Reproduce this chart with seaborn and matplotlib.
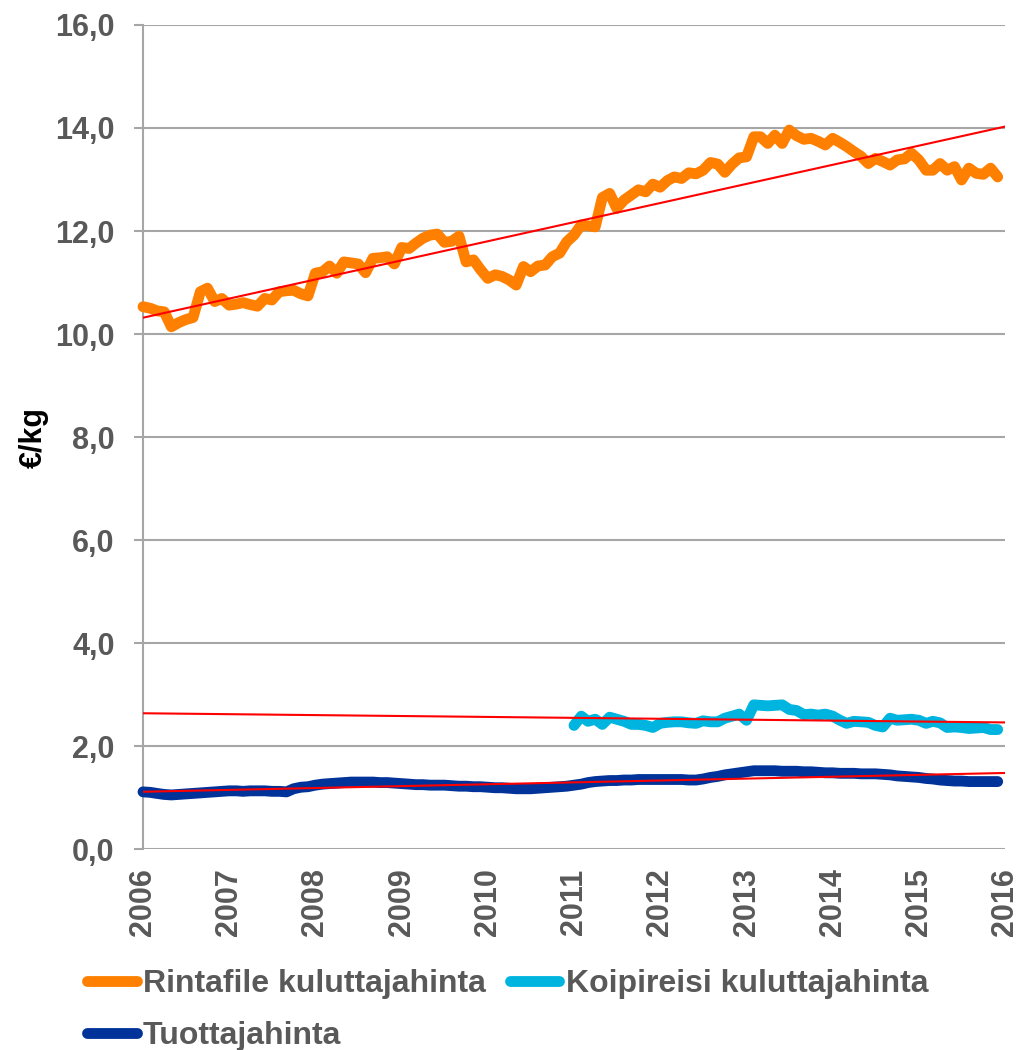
import matplotlib
matplotlib.use("Agg")
import matplotlib.pyplot as plt
import matplotlib.dates as mdates
from matplotlib.ticker import FuncFormatter
from matplotlib.font_manager import FontProperties
import seaborn as sns
import numpy as np
import pandas as pd

# kuukausittaiset hinnat, €/kg, tammikuu 2006 - joulukuu 2015
rintafile = [
    10.53, 10.50, 10.45, 10.43, 10.14, 10.22, 10.28, 10.32, 10.82, 10.89, 10.63, 10.69,
    10.56, 10.58, 10.61, 10.57, 10.54, 10.69, 10.66, 10.82, 10.84, 10.85, 10.78, 10.74,
    11.18, 11.21, 11.32, 11.18, 11.40, 11.38, 11.36, 11.19, 11.47, 11.48, 11.50, 11.36,
    11.68, 11.66, 11.76, 11.86, 11.92, 11.94, 11.78, 11.80, 11.90, 11.40, 11.44, 11.25,
    11.08, 11.15, 11.12, 11.05, 10.95, 11.31, 11.21, 11.32, 11.34, 11.50, 11.57, 11.79,
    11.92, 12.12, 12.10, 12.08, 12.65, 12.73, 12.44, 12.60, 12.70, 12.80, 12.76, 12.91,
    12.85, 12.98, 13.05, 13.02, 13.13, 13.11, 13.18, 13.33, 13.30, 13.14, 13.30, 13.42,
    13.44, 13.83, 13.83, 13.70, 13.86, 13.70, 13.96, 13.85, 13.78, 13.80, 13.74, 13.67,
    13.80, 13.72, 13.64, 13.54, 13.45, 13.31, 13.41, 13.35, 13.28, 13.38, 13.40, 13.51,
    13.38, 13.18, 13.18, 13.31, 13.18, 13.25, 12.99, 13.22, 13.12, 13.10, 13.22, 13.05,
]

# koipireisi alkaa tammikuusta 2011
koipireisi = [
    2.40, 2.58, 2.48, 2.52, 2.42, 2.56, 2.52, 2.48, 2.42, 2.42, 2.40, 2.36,
    2.44, 2.46, 2.47, 2.47, 2.45, 2.44, 2.49, 2.47, 2.47, 2.54, 2.58, 2.62,
    2.50, 2.80, 2.79, 2.78, 2.79, 2.80, 2.71, 2.69, 2.61, 2.62, 2.60, 2.62,
    2.58, 2.50, 2.44, 2.48, 2.47, 2.46, 2.40, 2.37, 2.54, 2.50, 2.51, 2.52,
    2.50, 2.44, 2.48, 2.45, 2.36, 2.37, 2.36, 2.34, 2.35, 2.36, 2.32, 2.32,
]

tuottaja = [
    1.11, 1.10, 1.08, 1.06, 1.05, 1.06, 1.07, 1.08, 1.09, 1.10, 1.11, 1.12,
    1.13, 1.13, 1.12, 1.13, 1.13, 1.13, 1.12, 1.12, 1.11, 1.17, 1.20, 1.21,
    1.24, 1.26, 1.27, 1.28, 1.29, 1.30, 1.30, 1.30, 1.30, 1.29, 1.29, 1.28,
    1.27, 1.26, 1.25, 1.25, 1.24, 1.24, 1.24, 1.23, 1.22, 1.22, 1.21, 1.21,
    1.20, 1.19, 1.19, 1.18, 1.17, 1.17, 1.17, 1.18, 1.19, 1.20, 1.21, 1.22,
    1.24, 1.26, 1.29, 1.31, 1.32, 1.33, 1.33, 1.34, 1.34, 1.35, 1.35, 1.35,
    1.35, 1.35, 1.35, 1.35, 1.34, 1.34, 1.36, 1.39, 1.41, 1.44, 1.46, 1.48,
    1.50, 1.52, 1.52, 1.52, 1.52, 1.51, 1.51, 1.51, 1.50, 1.50, 1.49, 1.48,
    1.48, 1.47, 1.47, 1.47, 1.46, 1.46, 1.46, 1.45, 1.44, 1.42, 1.41, 1.40,
    1.39, 1.37, 1.36, 1.34, 1.33, 1.32, 1.32, 1.31, 1.31, 1.31, 1.31, 1.31,
]

sarjat = ["Rintafile kuluttajahinta", "Koipireisi kuluttajahinta", "Tuottajahinta"]
varit = ["#FF8000", "#00B4E0", "#003399"]

kuukaudet = pd.date_range("2006-01-01", periods=len(rintafile), freq="MS")
alku = pd.Timestamp("2006-01-01")
loppu = pd.Timestamp("2016-01-01")

sns.set_style("white")
plt.rcParams["font.family"] = ["Liberation Sans", "DejaVu Sans"]
harmaa = "#595959"
viiva = "#A6A6A6"

fig = plt.figure(figsize=(10.17, 10.5), dpi=100)
ax = fig.add_axes([0.1406, 0.1914, 0.8476, 0.7848])

data = [
    (kuukaudet, rintafile),
    (kuukaudet[-len(koipireisi):], koipireisi),
    (kuukaudet, tuottaja),
]

for (x, y), nimi, vari in zip(data, sarjat, varit):
    sns.lineplot(x=x, y=y, color=vari, linewidth=7.8, label=nimi, ax=ax,
                 estimator=None, solid_capstyle="round", clip_on=False, zorder=3)

# lineaariset trendit (koipireisin trendi jatkuu koko aikavälille)
trendi_x = mdates.date2num([alku, loppu])
for x, y in data:
    k, b = np.polyfit(mdates.date2num(x), y, 1)
    sns.lineplot(x=mdates.num2date(trendi_x), y=k * trendi_x + b, color="#FF0000",
                 linewidth=1.5, ax=ax, zorder=4, legend=False)

ax.set_xlim(alku, loppu)
ax.set_ylim(0, 16)
ax.set_yticks(np.arange(0, 16.1, 2))
ax.yaxis.set_major_formatter(FuncFormatter(lambda v, p: f"{v:.1f}".replace(".", ",")))
ax.xaxis.set_major_locator(mdates.YearLocator())
ax.xaxis.set_major_formatter(mdates.DateFormatter("%Y"))

ax.yaxis.grid(True, color=viiva, linewidth=1.5)
ax.set_axisbelow(True)
for s in ["top", "right", "bottom"]:
    ax.spines[s].set_visible(False)
ax.spines["left"].set_color(viiva)
ax.spines["left"].set_linewidth(1.5)

ax.tick_params(axis="y", left=True, length=6.5, width=1.5, color=viiva, pad=14,
               labelsize=22, labelcolor=harmaa)
ax.tick_params(axis="x", bottom=False, length=0, pad=14, labelsize=22,
               labelcolor=harmaa, labelrotation=90)
for t in ax.get_xticklabels() + ax.get_yticklabels():
    t.set_fontweight("bold")

ax.set_xlabel("")
ax.set_ylabel("€/kg", fontsize=22, fontweight="bold", color="black")
ax.yaxis.set_label_coords(-0.109, 0.5)

kahvat, nimet = ax.get_legend_handles_labels()
ax.get_legend().remove()
jarjestys = [0, 2, 1]
leg = fig.legend([kahvat[i] for i in jarjestys], [nimet[i] for i in jarjestys],
                 loc="upper left", bbox_to_anchor=(87 / 1017, 1 - 969 / 1050),
                 ncol=2, frameon=False, handlelength=1.55, handletextpad=0.2,
                 columnspacing=0.75, borderpad=0, borderaxespad=0, labelspacing=0.68,
                 prop=FontProperties(family=["Liberation Sans", "DejaVu Sans"],
                                     weight="bold", size=23))
for t in leg.get_texts():
    t.set_color(harmaa)

fig.savefig("out.png", dpi=100)
